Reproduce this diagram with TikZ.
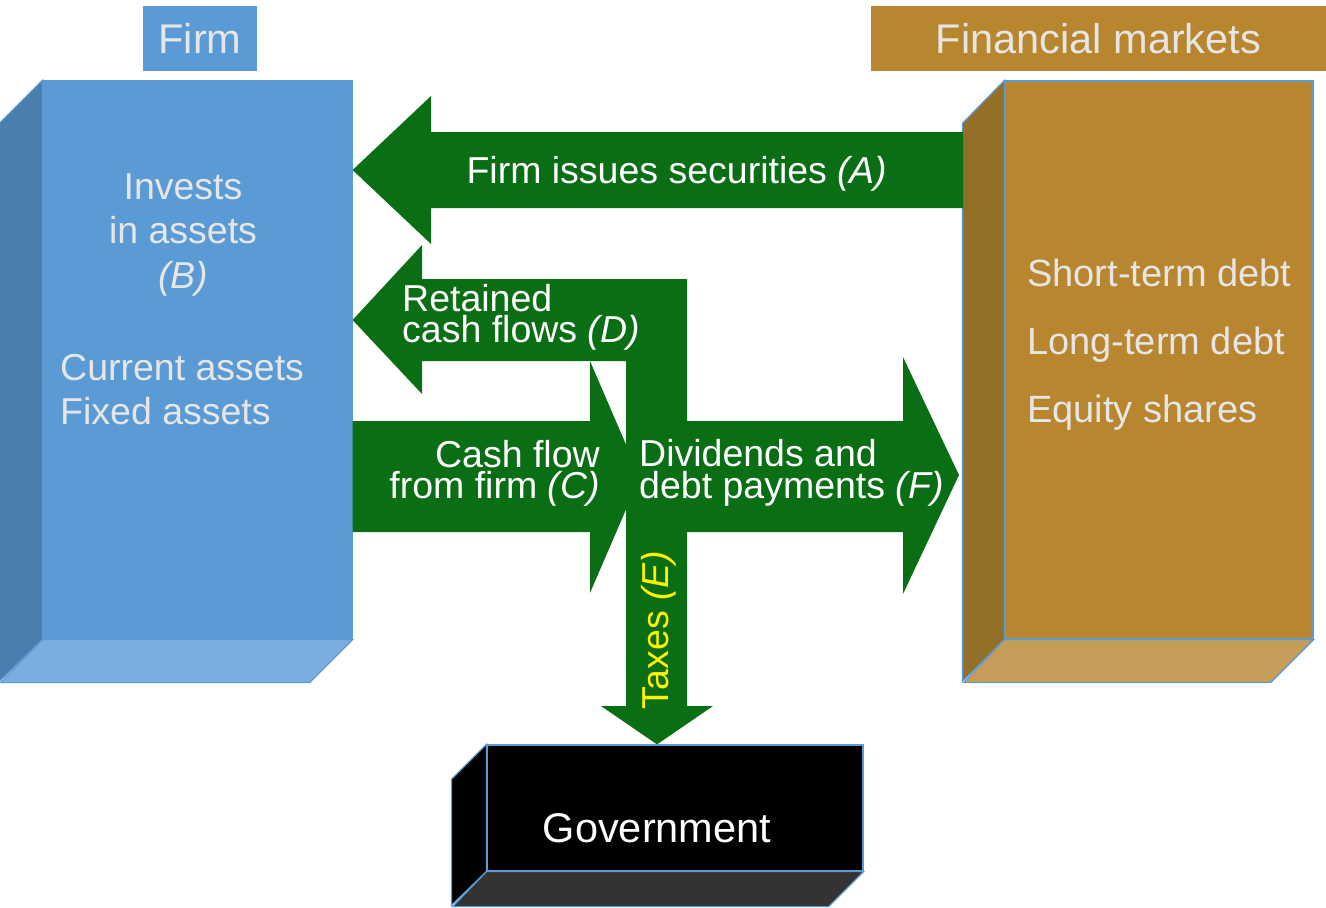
\documentclass[tikz,border=0pt]{standalone}
\usepackage{fontspec}
\setmainfont{Liberation Sans}
\definecolor{firmblue}{HTML}{5B9BD5}
\definecolor{firmside}{HTML}{4A7EAD}
\definecolor{firmbottom}{HTML}{7BAEDE}
\definecolor{mktgold}{HTML}{B8862F}
\definecolor{mktside}{HTML}{946F27}
\definecolor{mktbottom}{HTML}{C49E59}
\definecolor{govbottom}{HTML}{333333}
\definecolor{flowgreen}{HTML}{0A6E14}
\definecolor{paletext}{HTML}{E7E6E6}
\begin{document}
\begin{tikzpicture}[x=1pt, y=-1pt,
    flow/.style={fill=flowgreen},
    edge/.style={draw=firmblue, line width=1.2pt, line join=miter},
    flowtext/.style={text=white, inner sep=0, font=\fontsize{37.5}{31}\selectfont},
    boxtext/.style={text=paletext, inner sep=0}]
    \useasboundingbox (0,0) rectangle (1326,908);

    % Headers
    \node[fill=firmblue, text=paletext, minimum width=114, minimum height=65, inner sep=0, font=\fontsize{41.5}{49}\selectfont] (firmhead) at (200,38.5) {Firm};
    \node[fill=mktgold, text=paletext, minimum width=455, minimum height=65, inner sep=0, font=\fontsize{41.5}{49}\selectfont] (mkthead) at (1098.5,38.5) {Financial markets};

    % Boxes (front faces)
    \node[edge, fill=firmblue, minimum width=309, minimum height=558, inner sep=0] (firm) at (197.5,360) {};
    \node[edge, fill=mktgold, minimum width=308, minimum height=558, inner sep=0] (market) at (1159,360) {};
    \node[edge, fill=black, minimum width=376, minimum height=126, inner sep=0] (govt) at (675,808) {};

    % Side and bottom faces
    \filldraw[edge, fill=firmside] (firm.north west) -- ++(-43,43) -- ++(0,558) -- (firm.south west) -- cycle;
    \filldraw[edge, fill=firmbottom] (firm.south west) -- (firm.south east) -- ++(-43,43) -- ++(-309,0) -- cycle;
    \filldraw[edge, fill=mktside] (market.north west) -- ++(-42,43) -- ++(0,558) -- (market.south west) -- cycle;
    \filldraw[edge, fill=mktbottom] (market.south west) -- (market.south east) -- ++(-43,43) -- ++(-307,0) -- cycle;
    \filldraw[edge, fill=black] (govt.north west) -- ++(-35,35) -- ++(0,126) -- (govt.south west) -- cycle;
    \filldraw[edge, fill=govbottom] (govt.south west) -- (govt.south east) -- ++(-35,35) -- ++(-376,0) -- cycle;

    % Box texts
    \node[boxtext, anchor=north, align=center, font=\fontsize{37.5}{44.5}\selectfont] (invest) at (183,173) {Invests\\in assets\\\textit{(B)}};
    \node[boxtext, anchor=north west, align=left, font=\fontsize{37.5}{44}\selectfont] (assets) at (60,354) {Current assets\\Fixed assets};
    \node[boxtext, anchor=north west, align=left, font=\fontsize{38}{68}\selectfont] (claims) at (1027,259) {Short-term debt\\Long-term debt\\Equity shares};
    \node[text=white, inner sep=0, font=\fontsize{41.5}{48}\selectfont] (govtext) at (657,828) {Government};

    % Arrows
    \fill[flow] (firm.east |- 0,170) -- (431,96) -- (431,132) -- (963,132) -- (963,208) -- (431,208) -- (431,244) -- cycle;
    \fill[flow] (firm.east |- 0,320) -- (422,245) -- (422,279) -- (686,279) -- (686,361) -- (422,361) -- (422,394) -- cycle;
    \fill[flow] (firm.east |- 0,421) -- (590,421) -- (590,361) -- (640,477) -- (590,593) -- (590,532) -- (firm.east |- 0,532) -- cycle;
    \fill[flow] (626,421) -- (903,421) -- (903,357) -- (959,475) -- (903,594) -- (903,532) -- (626,532) -- cycle;
    \fill[flow] (626,279) -- (626,706) -- (601,706) -- (govt.north -| 657,0) -- (713,706) -- (687,706) -- (687,279) -- cycle;

    % Arrow labels
    \node[flowtext, anchor=base] (issue) at (677,183) {Firm issues securities \textit{(A)}};
    \node[flowtext, anchor=north west, align=left] (retain) at (402,284) {Retained\\cash flows \textit{(D)}};
    \node[flowtext, anchor=north east, align=right] (cashflow) at (600,440) {Cash flow\\from firm \textit{(C)}};
    \node[flowtext, anchor=north west, align=left, font=\fontsize{37.5}{32}\selectfont] (dividend) at (639,439) {Dividends and\\debt payments \textit{(F)}};
    \node[flowtext, text=yellow, rotate=90] (tax) at (659,630) {Taxes \textit{(E)}};
\end{tikzpicture}
\end{document}
